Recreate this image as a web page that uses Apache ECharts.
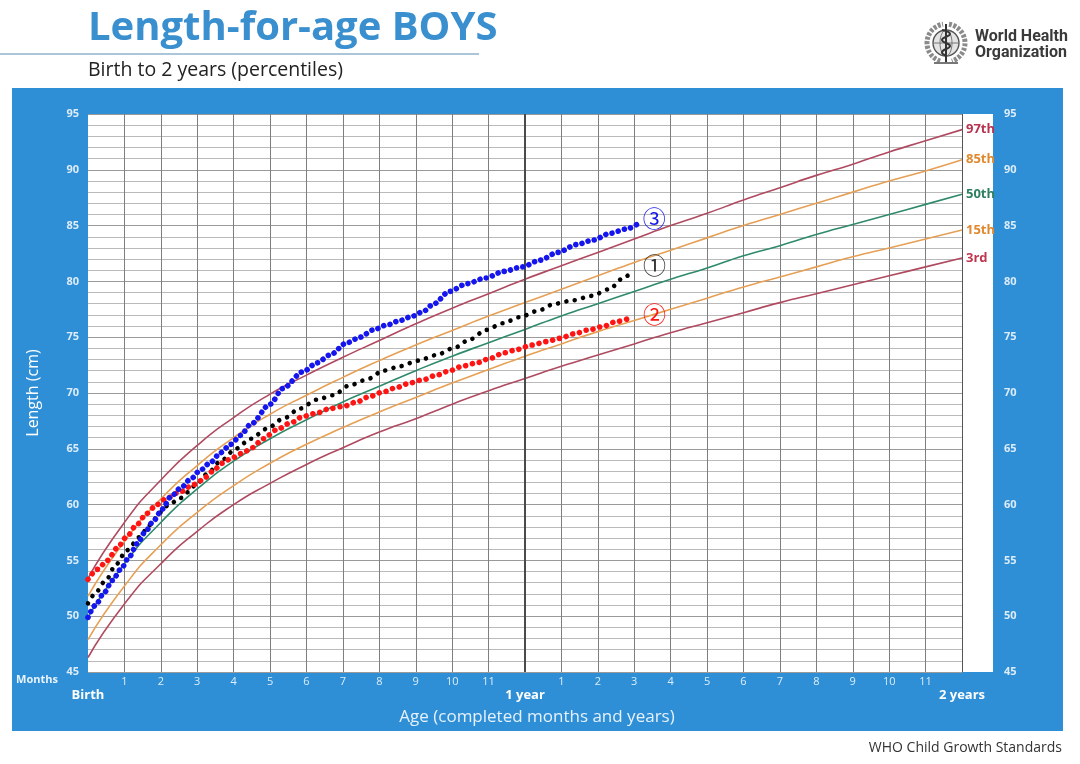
<!DOCTYPE html>
<html>
<head>
<meta charset="utf-8">
<script src="https://cdn.jsdelivr.net/npm/echarts@6/dist/echarts.min.js"></script>
<style>
  html, body { margin: 0; padding: 0; background: #fff; }
  #wrap { position: relative; width: 1080px; height: 764px; overflow: hidden; }
  #frame { position: absolute; left: 12px; top: 88px; width: 1051px; height: 643px; background: #2e8fd6; }
  #plot { position: absolute; left: 88px; top: 114px; width: 905px; height: 558px; background: #fff; }
  #main { position: absolute; left: 0; top: 0; width: 1080px; height: 764px; }
</style>
</head>
<body>
<div id="wrap">
  <div id="frame"></div>
  <div id="plot"></div>
  <div id="main"></div>
</div>
<script>
/// data

const ageMonths = [0, 1, 2, 3, 4, 5, 6, 7, 8, 9, 10, 11, 12, 13, 14, 15, 16, 17, 18, 19, 20, 21, 22, 23, 24]

// WHO percentile curves (cm)
const p3  = [46.3, 51.1, 54.7, 57.6, 60.0, 61.9, 63.6, 65.1, 66.5, 67.7, 69.0, 70.2, 71.3, 72.4, 73.4, 74.4, 75.4, 76.3, 77.2, 78.1, 78.9, 79.7, 80.5, 81.3, 82.1]
const p15 = [47.9, 52.7, 56.4, 59.3, 61.7, 63.7, 65.4, 66.9, 68.3, 69.6, 70.9, 72.1, 73.3, 74.4, 75.5, 76.5, 77.5, 78.5, 79.5, 80.4, 81.3, 82.2, 83.0, 83.8, 84.6]
const p50 = [49.9, 54.7, 58.4, 61.4, 63.9, 65.9, 67.6, 69.2, 70.6, 72.0, 73.3, 74.5, 75.7, 76.9, 78.0, 79.1, 80.2, 81.2, 82.3, 83.2, 84.2, 85.1, 86.0, 86.9, 87.8]
const p85 = [51.8, 56.7, 60.5, 63.5, 66.0, 68.1, 69.8, 71.4, 72.9, 74.3, 75.6, 76.9, 78.1, 79.3, 80.5, 81.7, 82.8, 83.9, 85.0, 86.0, 87.0, 88.0, 89.0, 89.9, 90.9]
const p97 = [53.4, 58.4, 62.2, 65.3, 67.8, 69.9, 71.6, 73.2, 74.7, 76.2, 77.6, 78.9, 80.2, 81.4, 82.6, 83.8, 85.0, 86.1, 87.3, 88.4, 89.5, 90.5, 91.6, 92.6, 93.6]

// child trajectories [age in months, length cm]
const child1 = [[0, 51.15], [0.16, 51.9], [0.49, 53.2], [0.76, 54.6], [1.06, 55.9], [1.43, 57.1], [1.61, 57.8],
  [1.79, 58.6], [1.98, 59.3], [2.18, 59.9], [2.55, 60.6], [2.73, 61.1], [2.94, 61.7], [3.29, 62.8], [3.64, 63.9],
  [4.06, 65.0], [4.47, 65.9], [4.91, 66.8], [5.36, 67.7], [5.82, 68.6], [6.28, 69.4], [6.73, 69.8], [7.19, 70.7],
  [7.65, 71.2], [8.11, 72.0], [8.57, 72.4], [9.07, 72.9], [9.57, 73.4], [10.03, 74.0], [10.49, 74.8], [10.93, 75.65],
  [11.39, 76.25], [11.86, 76.8], [12.34, 77.35], [12.82, 78.0], [13.31, 78.3], [13.83, 78.7], [14.31, 79.3],
  [14.7, 80.3], [14.91, 80.8]]

const child2 = [[0, 53.3], [0.26, 54.2], [0.53, 55.0], [0.8, 56.1], [1.06, 57.1], [1.34, 58.2], [1.61, 59.2],
  [1.89, 60.0], [2.18, 60.6], [2.5, 61.1], [2.91, 61.8], [3.14, 62.2], [3.41, 62.95], [3.69, 63.7], [3.96, 64.2],
  [4.24, 64.6], [4.51, 65.1], [4.81, 65.9], [5.18, 66.7], [5.55, 67.3], [5.91, 67.9], [6.28, 68.2], [6.64, 68.6],
  [7.01, 68.8], [7.38, 69.2], [7.74, 69.7], [8.11, 70.1], [8.48, 70.5], [8.84, 70.9], [9.21, 71.2], [9.57, 71.6],
  [9.94, 72.0], [10.28, 72.4], [10.67, 72.7], [11.04, 73.1], [11.42, 73.6], [11.79, 73.9], [12.18, 74.3],
  [12.58, 74.6], [12.96, 74.9], [13.34, 75.3], [13.74, 75.65], [14.13, 75.95], [14.51, 76.4], [14.91, 76.75]]

const child3 = [[0, 49.9], [0.21, 51.0], [0.44, 52.1], [0.67, 53.2], [0.9, 54.2], [1.13, 55.3], [1.35, 56.5],
  [1.58, 57.6], [1.81, 58.6], [2.04, 59.6], [2.27, 60.7], [2.55, 61.5], [2.82, 62.3], [3.09, 63.1], [3.37, 63.8],
  [3.64, 64.65], [3.92, 65.4], [4.19, 66.2], [4.47, 67.2], [5.0, 69.0], [5.35, 70.4], [5.9, 71.9], [6.29, 72.7],
  [6.64, 73.4], [7.11, 74.5], [7.47, 75.0], [7.83, 75.65], [8.21, 76.1], [8.57, 76.5], [8.92, 76.9], [9.2, 77.3],
  [9.5, 78.0], [9.92, 79.1], [10.41, 79.8], [10.91, 80.3], [11.42, 80.9], [11.92, 81.3], [12.41, 81.9],
  [12.9, 82.6], [13.42, 83.3], [13.87, 83.7], [14.33, 84.3], [14.79, 84.7], [15.07, 85.1]]

const yearLabels = { 0: 'Birth', 12: '1 year', 24: '2 years' }


/// helpers

const FONT = '"Open Sans", "Noto Sans", sans-serif'
const pairs = arr => ageMonths.map((a, i) => [a, arr[i]])

function percentile(name, values, color, labelColor) {
  return {
    type: 'line', name, data: pairs(values), smooth: 0.6, symbol: 'none', silent: true, z: 3,
    lineStyle: { color, width: 1.6 },
    endLabel: { show: true, formatter: name, color: labelColor, fontWeight: 'bold', fontSize: 13, fontFamily: FONT, distance: 4 }
  }
}

function dotted(name, data, color, size, gap, mark, labelColor, dist, dy) {
  return {
    type: 'line', name, data, smooth: 0.3, smoothMonotone: 'x', symbol: 'none', silent: true, z: 6,
    lineStyle: { color, width: size, type: [0.01, gap], cap: 'round' },
    endLabel: { show: true, formatter: mark, color: labelColor, fontSize: 23, fontFamily: '"Noto Sans CJK JP"', distance: dist, offset: [0, dy] }
  }
}

const vColors = ageMonths.map(a => a === 0 ? 'rgba(0,0,0,0)' : (a % 12 === 0 ? '#555' : '#7e7e7e'))
const yColors = [0, 1, 2, 3, 4].map(i => i === 0 ? '#9a9a9a' : '#bababa')


/// chart

const chart = echarts.init(document.getElementById('main'))

chart.setOption({
  animation: false,
  textStyle: { fontFamily: FONT },
  grid: { left: 88, top: 114, width: 874, height: 558 },
  xAxis: [{
    type: 'value', min: 0, max: 24, interval: 1,
    axisLine: { show: false }, axisTick: { show: false },
    axisLabel: { formatter: v => (v % 12 === 0 ? '' : String(v % 12)), color: '#deedfa', fontSize: 11, margin: 4 },
    splitLine: { show: true, lineStyle: { color: vColors, width: 1 } }
  }, {
    type: 'value', min: 0, max: 24, interval: 12, position: 'bottom', offset: 13,
    axisLine: { show: false }, axisTick: { show: false }, splitLine: { show: false },
    axisLabel: { formatter: v => yearLabels[v] || '', color: '#fff', fontSize: 13, fontWeight: 'bold', margin: 4 }
  }],
  yAxis: [{
    type: 'value', min: 45, max: 95, interval: 1, position: 'left',
    axisLine: { show: false }, axisTick: { show: false },
    axisLabel: { formatter: v => (v % 5 === 0 ? String(v) : ''), color: '#dcecfa', fontSize: 11, fontWeight: 'bold', margin: 9 },
    splitLine: { show: true, lineStyle: { color: yColors, width: 1 } },
    name: 'Length (cm)', nameLocation: 'middle', nameGap: 47,
    nameTextStyle: { color: '#fff', fontSize: 16, fontFamily: FONT }
  }, {
    type: 'value', min: 45, max: 95, interval: 1, position: 'right',
    axisLine: { show: false }, axisTick: { show: false }, splitLine: { show: false },
    axisLabel: { formatter: v => (v % 5 === 0 ? String(v) : ''), color: '#dcecfa', fontSize: 11, fontWeight: 'bold', margin: 42 }
  }],
  series: [
    Object.assign(percentile('3rd', p3, '#b04a60', '#c0364e'), {
      markLine: {
        silent: true, symbol: ['none', 'none'], label: { show: false },
        lineStyle: { color: '#4a4a4a', width: 2, type: 'solid' },
        data: [{ xAxis: 12 }]
      }
    }),
    percentile('15th', p15, '#e6a055', '#e0892e'),
    percentile('50th', p50, '#2f8a6c', '#2e8060'),
    percentile('85th', p85, '#e6a055', '#e0892e'),
    percentile('97th', p97, '#b04a60', '#b8334f'),
    dotted('child1', child1, '#000', 4.6, 8.5, '①', '#333', 12, -7),
    dotted('child2', child2, '#ff1414', 5.6, 7, '②', '#ff1414', 12, -3),
    dotted('child3', child3, '#1515ee', 5.6, 6.4, '③', '#1515ee', 6, -6)
  ],
  graphic: [
    { type: 'text', x: 88, y: 29, style: { text: 'Length-for-age BOYS', font: 'bold 40px ' + FONT, fill: '#3a90cf', align: 'left', verticalAlign: 'middle' } },
    { type: 'line', shape: { x1: 0, y1: 54, x2: 479, y2: 54 }, style: { stroke: '#8fb3cc', lineWidth: 1.5 } },
    { type: 'text', x: 88, y: 70, style: { text: 'Birth to 2 years (percentiles)', font: '19.5px ' + FONT, fill: '#222', align: 'left', verticalAlign: 'middle' } },
    { type: 'text', x: 37, y: 680, style: { text: 'Months', font: 'bold 11px ' + FONT, fill: '#e8f3fc', align: 'center', verticalAlign: 'middle' } },
    { type: 'text', x: 537, y: 717, style: { text: 'Age (completed months and years)', font: '17px ' + FONT, fill: '#e6f1fb', align: 'center', verticalAlign: 'middle' } },
    { type: 'text', x: 1062, y: 748, style: { text: 'WHO Child Growth Standards', font: '14px ' + FONT, fill: '#333', align: 'right', verticalAlign: 'middle' } },
    { type: 'text', x: 975, y: 37, style: { text: 'World Health', font: 'bold 16px Roboto', fill: '#3a3a3a', align: 'left', verticalAlign: 'middle' } },
    { type: 'text', x: 975, y: 53, style: { text: 'Organization', font: 'bold 16px Roboto', fill: '#3a3a3a', align: 'left', verticalAlign: 'middle' } },
    // emblem
    { type: 'arc', shape: { cx: 946, cy: 43, r: 19, startAngle: Math.PI * 0.6, endAngle: Math.PI * 1.45 }, style: { stroke: '#8a8a8a', lineWidth: 5, lineDash: [3, 1.5], fill: null } },
    { type: 'arc', shape: { cx: 946, cy: 43, r: 19, startAngle: -Math.PI * 0.45, endAngle: Math.PI * 0.4 }, style: { stroke: '#8a8a8a', lineWidth: 5, lineDash: [3, 1.5], fill: null } },
    { type: 'circle', shape: { cx: 946, cy: 43, r: 13 }, style: { fill: '#e4e4e4', stroke: '#555', lineWidth: 1.4 } },
    { type: 'ellipse', shape: { cx: 946, cy: 43, rx: 6, ry: 13 }, style: { fill: null, stroke: '#777', lineWidth: 1 } },
    { type: 'line', shape: { x1: 933, y1: 43, x2: 959, y2: 43 }, style: { stroke: '#777', lineWidth: 1 } },
    { type: 'line', shape: { x1: 946, y1: 24, x2: 946, y2: 62 }, style: { stroke: '#333', lineWidth: 2 } },
    { type: 'polyline', shape: { points: [[942, 30], [950, 34], [942, 40], [950, 46], [942, 52], [947, 56]], smooth: 0.5 }, style: { stroke: '#333', lineWidth: 2, fill: null } },
    { type: 'line', shape: { x1: 934, y1: 63, x2: 958, y2: 63 }, style: { stroke: '#777', lineWidth: 2 } }
  ]
})
</script>
</body>
</html>
